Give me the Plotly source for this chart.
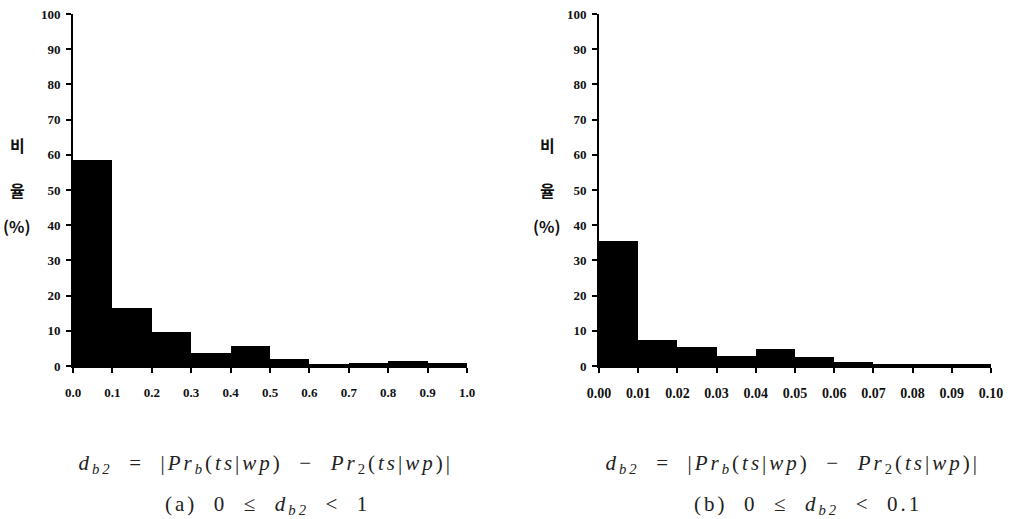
import plotly.graph_objects as go

# ---- data ----
bins_a = [0.0, 0.1, 0.2, 0.3, 0.4, 0.5, 0.6, 0.7, 0.8, 0.9]
pct_a = [58.5, 16.5, 9.7, 3.7, 5.6, 2.0, 0.5, 0.8, 1.5, 0.8]
bins_b = [0.00, 0.01, 0.02, 0.03, 0.04, 0.05, 0.06, 0.07, 0.08, 0.09]
pct_b = [35.6, 7.4, 5.3, 2.8, 4.9, 2.5, 1.2, 0.6, 0.5, 0.7]
ticks_a = [0.0, 0.1, 0.2, 0.3, 0.4, 0.5, 0.6, 0.7, 0.8, 0.9, 1.0]
ticklabels_a = ["0.0", "0.1", "0.2", "0.3", "0.4", "0.5", "0.6", "0.7", "0.8", "0.9", "1.0"]
ticks_b = [0.00, 0.01, 0.02, 0.03, 0.04, 0.05, 0.06, 0.07, 0.08, 0.09, 0.10]
ticklabels_b = ["0.00", "0.01", "0.02", "0.03", "0.04", "0.05", "0.06", "0.07", "0.08", "0.09", "0.10"]
yticks = [0, 10, 20, 30, 40, 50, 60, 70, 80, 90, 100]

W, H = 1013, 519
L, R, T, B = 73, 991, 14, 366
PW, PH = R - L, B - T


def px(xp):
    return (xp - L) / PW


def py(yp):
    return (B - yp) / PH


fig = go.Figure()
fig.add_trace(go.Bar(x=bins_a, y=pct_a, width=0.1, offset=0, marker=dict(color="#000", line=dict(width=0)),
                     xaxis="x", yaxis="y", showlegend=False))
fig.add_trace(go.Bar(x=bins_b, y=pct_b, width=0.01, offset=0, marker=dict(color="#000", line=dict(width=0)),
                     xaxis="x2", yaxis="y2", showlegend=False))

tickfont = dict(family="Liberation Serif", size=13, color="#111")
common_x = dict(showline=True, linecolor="#000", linewidth=2, ticks="outside", ticklen=5, tickwidth=2,
                tickcolor="#000", showgrid=False, zeroline=False, ticklabelstandoff=8,
                automargin=False)
common_y = dict(showline=True, linecolor="#000", linewidth=2, ticks="outside", ticklen=5, tickwidth=2,
                tickcolor="#000", showgrid=False, zeroline=False, tickfont=tickfont, range=[0, 100],
                tickvals=yticks, ticktext=[f"<b>{v}</b>" for v in yticks], ticklabelstandoff=3,
                automargin=False, domain=[0, 1])

fig.update_layout(
    width=W, height=H, margin=dict(l=L, r=W - R, t=T, b=H - B, autoexpand=False),
    paper_bgcolor="white", plot_bgcolor="white", bargap=0,
    xaxis=dict(domain=[0, px(467)], range=[0, 1], tickvals=ticks_a, tickfont=tickfont,
               ticktext=[f"<b>{t}</b>" for t in ticklabels_a], anchor="y", **common_x),
    yaxis=dict(anchor="x", **common_y),
    xaxis2=dict(domain=[px(599), 1], range=[0, 0.1], tickvals=ticks_b,
                tickfont=dict(family="Liberation Serif", size=14, color="#111"),
                ticktext=[f"<b>{t}</b>" for t in ticklabels_b], anchor="y2", **common_x),
    yaxis2=dict(anchor="x2", **common_y),
)

lab_font = dict(family="Noto Sans CJK KR", size=16, color="#111")
for xc in (17, 547):
    for txt, yc in (("<b>비</b>", 145), ("<b>율</b>", 190), ("<b>(%)</b>", 226)):
        fig.add_annotation(x=px(xc), y=py(yc), xref="paper", yref="paper", text=txt,
                           showarrow=False, font=lab_font, xanchor="center", yanchor="middle")

cap_font = dict(family="Liberation Serif", size=21, color="#222")
sp = "&nbsp;" * 2
eq = (f"<i>d</i><sub><i>b2</i></sub>{sp}={sp}|<i>Pr</i><sub><i>b</i></sub>(<i>ts</i>|<i>wp</i>)"
      f"{sp}−{sp}<i>Pr</i><sub>2</sub>(<i>ts</i>|<i>wp</i>)|")
caps = [
    (265, 464, eq),
    (267, 505, f"(a){sp}0{sp}≤{sp}<i>d</i><sub><i>b2</i></sub>{sp}&lt;{sp}1"),
    (792, 464, eq),
    (808, 505, f"(b){sp}0{sp}≤{sp}<i>d</i><sub><i>b2</i></sub>{sp}&lt;{sp}0.1"),
]
for xc, yc, txt in caps:
    fig.add_annotation(x=px(xc), y=py(yc), xref="paper", yref="paper", text=txt,
                       showarrow=False, font=cap_font, xanchor="center", yanchor="middle")

post = """
document.body.style.margin='0';
var gd = document.getElementsByClassName('plotly-graph-div')[0];
gd.querySelectorAll('.annotation-text').forEach(function(e){
  if (e.textContent.indexOf('Pr') >= 0 || e.textContent.indexOf('(a)') >= 0 || e.textContent.indexOf('(b)') >= 0) {
    e.style.letterSpacing = '3px';
  }
});
"""
fig.write_html("out.html", post_script=post, config={"displayModeBar": False})
